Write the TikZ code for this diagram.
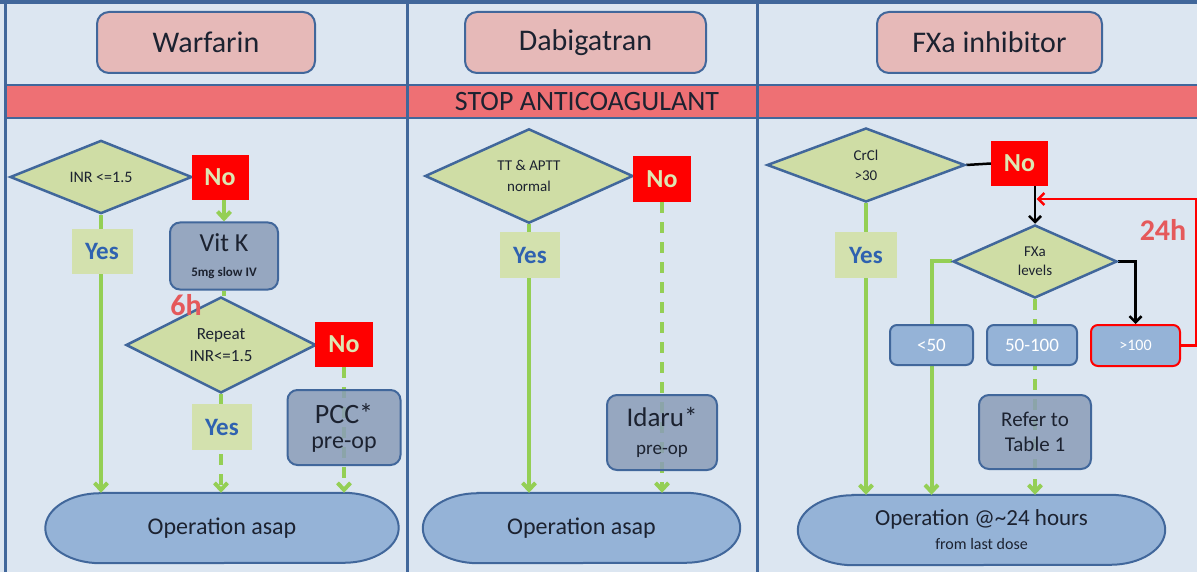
\documentclass[tikz,border=0pt]{standalone}
\usepackage{fontspec}
\setmainfont{Carlito}
\usetikzlibrary{shapes.geometric,arrows.meta,calc}
\definecolor{panel}{HTML}{DCE6F1}
\definecolor{frame}{HTML}{41679B}
\definecolor{barred}{HTML}{EE7074}
\definecolor{hdrfill}{HTML}{E6B9B8}
\definecolor{dfill}{HTML}{CFDDA5}
\definecolor{yfill}{HTML}{D3E1AE}
\definecolor{gbox}{HTML}{8A9DB8}
\definecolor{lbox}{HTML}{95B3D7}
\definecolor{lgreen}{HTML}{94CF55}
\definecolor{yesblue}{HTML}{2F62B0}
\definecolor{nocol}{HTML}{DDE7B2}
\definecolor{hcol}{HTML}{E5595B}
\definecolor{txt}{HTML}{1C2230}
\pgfdeclarelayer{back}
\pgfdeclarelayer{links}
\pgfsetlayers{back,links,main}
\newcommand\opshape[2]{\path[opfill] ($(#1.north west)+(#2,0)$) -- ($(#1.north east)+(-#2,0)$) arc[start angle=90, end angle=-90, x radius=#2pt, y radius=35pt] -- ($(#1.south west)+(#2,0)$) arc[start angle=270, end angle=90, x radius=#2pt, y radius=35pt] -- cycle;}
\tikzset{
 hdr/.style={draw=frame, line width=2pt, fill=hdrfill, rounded corners=12pt, minimum height=61pt, font=\fontsize{30}{36}\selectfont, text=txt},
 dec/.style={diamond, draw=frame, line width=2.5pt, fill=dfill, inner sep=0pt, align=center, text=txt},
 nobox/.style={fill=red, minimum width=57pt, minimum height=45pt, font=\fontsize{26}{30}\selectfont\bfseries, text=nocol},
 yesbox/.style={fill=yfill, minimum width=61pt, minimum height=45pt, font=\fontsize{25}{30}\selectfont\bfseries, text=yesblue},
 actbox/.style={draw=frame, line width=2pt, fill=gbox, fill opacity=0.85, text opacity=1, rounded corners=10pt, align=center, text=txt},
 lvlbox/.style={draw=frame, line width=2pt, fill=lbox, rounded corners=7pt, minimum height=40pt, text=white},
 opnode/.style={minimum height=70pt, align=center, text=txt},
 opfill/.style={draw=frame, line width=2pt, fill=lbox},
 hours/.style={font=\fontsize{30}{34}\selectfont\bfseries, text=hcol},
 garrow/.style={draw=lgreen, line width=4pt, -{Straight Barb[length=7pt,width=13pt]}},
 gline/.style={draw=lgreen, line width=4pt},
 gdash/.style={dash pattern=on 11pt off 9pt},
 kline/.style={draw=black, line width=2.5pt},
 karrow/.style={draw=black, line width=2.5pt, -{Straight Barb[length=6pt,width=12pt]}},
 rarrow/.style={draw=red, line width=2.5pt, -{Straight Barb[length=6pt,width=12pt]}},
}
\begin{document}
\begin{tikzpicture}[x=1pt,y=-1pt]
\useasboundingbox (0,0) rectangle (1197,572);
\begin{pgfonlayer}{back}
\fill[panel] (0,0) rectangle (1197,572);
\fill[barred] (5,85) rectangle (1197,118);
\draw[frame, line width=2.5pt] (5,85) -- (1197,85) (5,118) -- (1197,118);
\draw[frame, line width=3.5pt] (0,2) -- (1197,2);
\draw[frame, line width=3pt] (5,0) -- (5,572) (407,0) -- (407,572) (757,0) -- (757,572);
\end{pgfonlayer}

% headers
\node[hdr, minimum width=218pt] (hW) at (206,42.5) {Warfarin};
\node[hdr, minimum width=241pt] (hD) at (585.5,42.5) {Dabigatran};
\node[hdr, minimum width=225pt] (hF) at (989.5,42.5) {FXa inhibitor};
\node[font=\fontsize{28}{32}\selectfont, text=txt] (stop) at (587,102) {STOP ANTICOAGULANT};

% Warfarin
\node[dec, minimum width=182pt, minimum height=73pt, font=\fontsize{16}{18}\selectfont] (dINR) at (101,177) {INR <=1.5};
\node[nobox] (noW1) at (220,177.5) {No};
\node[yesbox] (yesW1) at (102,251.5) {Yes};
\node[actbox, minimum width=108pt, minimum height=67pt, font=\fontsize{26}{25}\selectfont] (vitk) at (224,256) {Vit K\\\fontsize{13}{25}\selectfont\bfseries 5mg slow IV};
\node[dec, minimum width=190pt, minimum height=76pt, font=\fontsize{17}{22}\selectfont] (dRep) at (221,345) {Repeat\\INR<=1.5};
\node[nobox, minimum width=58pt] (noW2) at (344,344.5) {No};
\node[yesbox, minimum width=60pt, minimum height=46pt] (yesW2) at (222,427) {Yes};
\node[actbox, minimum width=113pt, minimum height=75pt, font=\fontsize{28}{25}\selectfont] (pcc) at (344,427.5) {PCC*\\\fontsize{24}{25}\selectfont pre-op};
\node[opnode, minimum width=353pt, font=\fontsize{24}{28}\selectfont] (opW) at (222,528) {Operation asap};
\node[hours] (t6h) at (186,305) {6h};

% Dabigatran
\node[dec, minimum width=208pt, minimum height=74pt, font=\fontsize{15}{21}\selectfont] (dTT) at (529,176) {TT \& APTT\\normal};
\node[nobox, minimum width=58pt, minimum height=46pt] (noD) at (662,179) {No};
\node[yesbox, minimum width=60pt, minimum height=46pt] (yesD) at (530,255) {Yes};
\node[actbox, minimum width=110pt, minimum height=75pt, font=\fontsize{27}{28}\selectfont] (idaru) at (662,432.5) {Idaru*\\\fontsize{19}{28}\selectfont pre-op};
\node[opnode, minimum width=317pt, font=\fontsize{24}{28}\selectfont] (opD) at (581.5,528) {Operation asap};

% FXa inhibitor
\node[dec, minimum width=198pt, minimum height=74pt, font=\fontsize{15}{20}\selectfont] (dCr) at (866,165) {CrCl\\>30};
\node[nobox] (noF) at (1019.5,163.5) {No};
\node[yesbox, minimum width=62pt, minimum height=46pt] (yesF) at (866,255) {Yes};
\node[dec, minimum width=164pt, minimum height=73pt, font=\fontsize{15}{19}\selectfont] (dFX) at (1035,261.5) {FXa\\levels};
\node[lvlbox, minimum width=83pt, font=\fontsize{19}{22}\selectfont] (b50) at (931.5,345) {<50};
\node[lvlbox, minimum width=90pt, font=\fontsize{19}{22}\selectfont] (b50100) at (1032,345) {50-100};
\node[lvlbox, draw=red, minimum width=89pt, minimum height=41pt, font=\fontsize{16}{20}\selectfont] (b100) at (1135.5,345.5) {>100};
\node[actbox, minimum width=112pt, minimum height=74pt, font=\fontsize{21}{25}\selectfont] (refer) at (1035,432) {Refer to\\Table 1};
\node[opnode, minimum width=367pt, font=\fontsize{23}{24}\selectfont] (opF) at (981.5,530) {Operation @\textasciitilde 24 hours\\\fontsize{16}{24}\selectfont from last dose};
\node[hours] (t24) at (1163,230) {24h};

\begin{pgfonlayer}{links}
\opshape{opW}{55}
\opshape{opD}{55}
\opshape{opF}{55}
% Warfarin
\draw[garrow] (dINR.south) -- (dINR.south |- opW.north);
\draw[garrow] (vitk.north |- noW1.south) -- (vitk.north);
\draw[gline] (vitk.south) -- (vitk.south |- dRep.north);
\draw[garrow, gdash] (dRep.south) -- (dRep.south |- opW.north);
\draw[garrow, gdash] (noW2.south) -- (noW2.south |- opW.north);
% Dabigatran
\draw[garrow] (dTT.south) -- (dTT.south |- opD.north);
\draw[garrow, gdash] (noD.south) -- (noD.south |- opD.north);
% FXa
\draw[garrow] (dCr.south) -- (dCr.south |- opF.north);
\draw[kline] (dCr.east) -- (noF.west);
\draw[karrow] (dFX.north |- noF.south) -- (dFX.north);
\draw[garrow] (dFX.west) -- (b50.north |- dFX.west) -- (b50.north |- opF.north);
\draw[garrow, gdash] (dFX.south) -- (dFX.south |- opF.north);
\draw[karrow] (dFX.east) -| (b100.north);
\coordinate (loopR) at (1196,199);
\draw[rarrow, shorten >=1.5pt] (b100.east) -| (loopR) -- (dFX.north |- loopR);
\end{pgfonlayer}
\end{tikzpicture}
\end{document}
